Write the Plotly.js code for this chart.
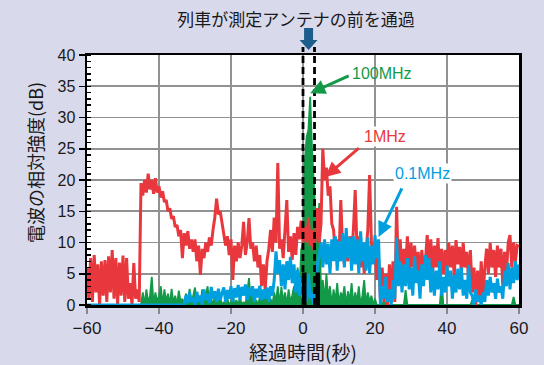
<!DOCTYPE html>
<html><head><meta charset="utf-8">
<script src="https://cdn.plot.ly/plotly-3.0.1.min.js"></script>
<style>html,body{margin:0;padding:0;background:#d9d9ec;}#chart{width:544px;height:365px;}</style>
</head><body><div id="chart"></div>
<script>
// sampling grid of the recording (seconds)
const tStart = -60, tStep = 0.5;

// 1 MHz (red), dB
const red1MHz = [
6,1,7.5,0.5,8,2,6.5,0,7,1.5,
7.2,0.5,7.8,2,8.8,1,7.5,0,6.8,1.5,
7.9,0.5,7.5,1,3.5,0,6.7,1,2.5,0.5,
19.5,17.5,20,18,21,18.5,20,17.8,20.3,18,
19,17.2,18.2,16.5,16.8,15,15.5,13.8,14.2,12.5,
12.8,11,12,7.5,11.5,9.5,11.8,9,10.5,8.5,
10.5,7,9.5,4.8,9,7.5,10,8.5,10.8,9.5,
12,14,17,14.5,15,13,11.5,9.5,11,8,
10.5,4,9.5,7,10,7.5,9.5,13.3,8,10,
13.9,9,10,7,9.5,6,8,3,6.5,2.4,
7,9,12,8.5,14,10,22.7,9,10.5,7.5,
12,16.8,8.5,11,7.2,11.5,8,12.5,10.5,13.5,
10,12.5,10,14,9.5,12,8.8,11,15.5,10,
13,25,20,22,17.5,19,13,12,8,10.5,
7.5,16.8,9,6.5,10,7,11,8,12,18.4,
9,11,6,9.5,5,8,12,20.8,10,7,
9,4,7.5,1,6,0.5,5,0,6.5,2,
7,0.5,15.7,5,10.5,4,9,6,11,5,
10,6,9.5,5,8.5,4,8.8,5.5,7,11.2,
6,10.5,5,9.5,6,10.7,4.5,9,5,8.8,
5.5,10,6,9.5,4.5,10.4,6.5,9.3,5,10,
6,8.5,4,8.8,2,6,0,5.5,0.5,7,
1,6,9,5,9.9,6,8.8,4.5,9.5,6,
9,3,8.5,5,10,11.2,6,10,7,9.5,
9.3];

// 100 MHz (green), dB
const green100MHz = [
0,0,0,0,0,0,0,0,0,0,
0,0,0,0,0,0,0,0,0,0,
0,0,0,0,0,0,0,0,0,0,
0,2,0,2.5,0.3,1.5,4.5,0,2,0.5,
1.5,3,0,2.5,0.5,1.8,0,2.6,0.3,1.5,
0,2.3,0.5,1,0,1.8,0.5,2.6,0,1.5,
2.8,0.3,1,0,2.5,0.5,1.5,3,0,1,
0,1.5,0,0.5,1.2,0,0.5,0,1,0,
0.5,1.5,0,0.8,0,1.2,0,0.5,0,2,
4.3,0.5,1.5,0,0.8,0,1.2,0,2.2,0.3,
1.5,0,1,0,2,0.5,3,0,2.9,0.5,
2,0,2.5,0.5,1.5,3,0.5,6,2,8.8,
10,23,26.9,28,33.3,25,18.9,13,8.8,16.3,
2,4,0.5,5,1,3,0,2.5,0.5,3.5,
0,2,1,3,0,2.2,0.5,3.5,0,2,
0.5,3,0,1.5,4,0,2,0.5,1.5,0,
1,0,0,0,0,0.8,0,0,0,0,
0,0,0,0,0,0,0,2.4,0,0,
0,0,0,0,0,0,0,0,0,0,
0,0,0,0,0,0,0,3.7,0,0,
0,0,0,0,0,0,0,0,0,0,
0,0,0,0,0.8,0,0,0,0,0,
0,0,0,0,0,0,0,0,0,0,
0,0,0,0,0,0,0,1.3,0,0,
0];

// 0.1 MHz (blue), dB
const blue01MHz = [
0,0,0,0,0,0,0,0,0,0,
0,0,0,0,0,0,0,0,0,0,
0,0,0,0,0,0,0,0,0,0,
0,0,0,0,0,0,0,0,0,0,
0,0,0,0,0,0,0,0,0,0,
0,0,0,0,0,1.5,0.3,2,0.5,1.2,
0,2.1,0.5,1.5,0,2.5,0.8,1.8,0.3,2.9,
1,2.2,0.5,2.6,0.8,1.9,2.8,0.5,2.4,1,
3,0.5,2.7,1.2,3.2,0.8,2.9,1.5,3.3,0.8,
2.8,1.5,3,0.5,2.6,1.2,3.1,0.8,2.5,1,
2.8,0.5,3,1.5,4,8.6,5,7.2,3,6.5,
2.5,7,4,7.7,3.5,6.5,2,5.6,1.5,4.5,
1,3.5,0.5,5,1,2,0,1.5,6.5,8,
10,6,10.5,6.5,9.8,5,10.5,7,11,5.5,
10.2,7,11.5,6,12.3,7.5,10.8,5.5,11,6.5,
10.5,5,11.8,7,10,5.5,10.8,5,9.5,6.5,
11.2,7.5,10.5,0,3,1,4.5,0.5,2.5,0,
4,1,10.8,3,7,2,6.5,3,7.5,2.5,
6,1.5,7.8,3.5,5.5,1,6.5,3,8,4,
7.5,2,6,1.5,5.5,2.5,7,1.5,4.5,2,
6.3,3,5.5,1,4.8,2,5.8,2.5,6,1.5,
4,1,6.4,2,1.5,0,2.5,0.5,1.5,0,
2,0.5,4,1.5,4.5,2,3.5,1,4.2,2,
3,1,5.5,3,6.7,2.5,6,3.5,7,4,
6.5];

// black pulses while the train passes
const passTimes = [0.35, 4.1];
const passLevels = [5.2, 5.2];
// dashed passage window (seconds)
const passWindow = [0, 3.2];

const xTicks = [-60, -40, -20, 0, 20, 40, 60];
const yTicks = [0, 5, 10, 15, 20, 25, 30, 35, 40];

const time = red1MHz.map((_, i) => tStart + i * tStep);

const RED = '#e8383d', GREEN = '#129a48', BLUE = '#00a0e0', ARROWBLUE = '#1d5d8c';
const latin = 'Liberation Sans, Arial, sans-serif';
const cjk = 'Noto Sans CJK JP, Liberation Sans, sans-serif';

const blackX = [], blackY = [];
passTimes.forEach((t, i) => { blackX.push(t, t, null); blackY.push(0, passLevels[i], null); });

const traces = [
  {x: time, y: green100MHz, type: 'scatter', mode: 'lines', fill: 'tozeroy', fillcolor: GREEN,
   line: {color: GREEN, width: 1.8}, hoverinfo: 'skip', name: '100MHz'},
  {x: time, y: red1MHz, type: 'scatter', mode: 'lines', line: {color: RED, width: 3}, name: '1MHz'},
  {x: time, y: blue01MHz, type: 'scatter', mode: 'lines', line: {color: BLUE, width: 3}, name: '0.1MHz'},
  {x: blackX, y: blackY, type: 'scatter', mode: 'lines', line: {color: '#000', width: 4.5}, name: 'pass'}
];

const shapes = passWindow.map(t => ({
  type: 'line', xref: 'x', yref: 'paper', x0: t, x1: t, y0: 0, y1: 1.032,
  line: {color: '#000', width: 2.8, dash: '7px,4px'}
}));
shapes.push({
  type: 'path', xref: 'x', yref: 'paper', xsizemode: 'pixel', ysizemode: 'pixel',
  xanchor: 1.55, yanchor: 1,
  path: 'M -4.5,27 L 4.5,27 L 4.5,15 L 9,15 L 0,5 L -9,15 L -4.5,15 Z',
  fillcolor: ARROWBLUE, line: {width: 0}
});

const labelFont = (c) => ({family: latin, size: 16, color: c});
const annotations = [
  {x: 2.0, y: 33.9, ax: 40, ay: -18, text: '', showarrow: true, arrowhead: 2, arrowsize: 1, arrowwidth: 3, arrowcolor: GREEN, standoff: 0},
  {x: 6.2, y: 20.5, ax: 35, ay: -30, text: '', showarrow: true, arrowhead: 2, arrowsize: 1, arrowwidth: 3, arrowcolor: RED, standoff: 0},
  {x: 21.0, y: 10.9, ax: 24, ay: -50, text: '', showarrow: true, arrowhead: 2, arrowsize: 1, arrowwidth: 3, arrowcolor: BLUE, standoff: 0},
  {x: 22.0, y: 37.1, text: '100MHz', showarrow: false, font: labelFont(GREEN), bgcolor: 'rgba(255,255,255,0)'},
  {x: 22.7, y: 26.9, text: '1MHz', showarrow: false, font: labelFont(RED), bgcolor: '#fff', borderpad: 1},
  {x: 33.3, y: 21.0, text: '0.1MHz', showarrow: false, font: labelFont(BLUE), bgcolor: '#fff', borderpad: 1},
  {xref: 'paper', yref: 'paper', x: (35 - 87) / 432, y: (305 - 163) / 250, textangle: -90,
   text: '電波の相対強度(dB)', showarrow: false, xanchor: 'center', yanchor: 'middle',
   font: {family: cjk, size: 18, color: '#1a1a1a'}}
];

const layout = {
  width: 544, height: 365,
  margin: {l: 87, r: 25, t: 55, b: 60},
  paper_bgcolor: '#d9d9ec', plot_bgcolor: '#ffffff',
  showlegend: false,
  title: {text: '列車が測定アンテナの前を通過', font: {family: cjk, size: 17, color: '#1a1a1a'},
          x: 296 / 544, xref: 'container', xanchor: 'center', y: 1 - 20 / 365, yref: 'container', yanchor: 'middle'},
  xaxis: {range: [-60, 60], tickmode: 'array', tickvals: xTicks, ticks: 'outside', ticklen: 6, tickwidth: 1.5, tickcolor: '#888',
          showgrid: true, gridcolor: '#919191', gridwidth: 1.6, zeroline: false,
          showline: true, linecolor: '#000', linewidth: 2.5, mirror: true,
          tickfont: {family: latin, size: 17, color: '#1a1a1a'},
          title: {text: '経過時間(秒)', font: {family: cjk, size: 19, color: '#1a1a1a'}, standoff: 4}},
  yaxis: {range: [0, 40], tickmode: 'array', tickvals: yTicks, ticks: 'outside', ticklen: 6, tickwidth: 1.5, tickcolor: '#000',
          minor: {tickmode: 'linear', tick0: 0, dtick: 1, ticks: 'inside', ticklen: 4, tickwidth: 1.5, tickcolor: '#000', showgrid: false},
          showgrid: true, gridcolor: '#919191', gridwidth: 1.6, zeroline: false,
          showline: true, linecolor: '#000', linewidth: 2.5, mirror: true,
          tickfont: {family: latin, size: 16, color: '#1a1a1a'}},
  shapes: shapes,
  annotations: annotations
};

Plotly.newPlot('chart', traces, layout, {displayModeBar: false, staticPlot: true});
</script>
</body></html>
